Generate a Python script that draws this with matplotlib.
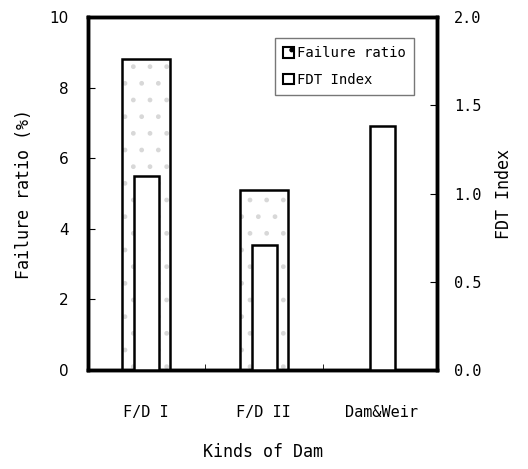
import matplotlib.pyplot as plt
import matplotlib.patches as mpatches
import numpy as np

# data
kinds = ['F/D I', 'F/D II', 'Dam&Weir']
failure_ratio = [8.8, 5.1, 0.0]   # %
fdt_index = [1.10, 0.71, 1.38]

mono = 'DejaVu Sans Mono'

fig = plt.figure(figsize=(5.28, 4.69), dpi=100)
ax1 = fig.add_axes([0.1667, 0.211, 0.661, 0.7527])
ax2 = ax1.twinx()

x = np.arange(len(kinds))
# faint speckle fill, then the black outline
ax1.bar(x, failure_ratio, width=0.41, color='white', edgecolor='#d8d8d8', linewidth=0,
        hatch='.', zorder=2)
ax1.bar(x, failure_ratio, width=0.41, color='none', edgecolor='black', linewidth=1.8, zorder=2)
ax2.bar(x + 0.005, fdt_index, width=0.21, color='white', edgecolor='black', linewidth=1.8, zorder=3)

ax1.set_xlim(-0.49, 2.47)
ax1.set_ylim(0, 10)
ax2.set_ylim(0, 2.0)
ax1.set_yticks([0, 2, 4, 6, 8, 10])
ax2.set_yticks([0.0, 0.5, 1.0, 1.5, 2.0])
ax2.set_yticklabels(['0.0', '0.5', '1.0', '1.5', '2.0'], family=mono, fontsize=11)
ax1.set_xticks(x)
ax1.set_xticklabels(kinds, family=mono, fontsize=11)
ax1.set_xticks([0.5, 1.5], minor=True)
ax1.tick_params(axis='x', which='major', length=0, pad=25)
ax1.tick_params(axis='x', which='minor', direction='in', length=4)
ax1.tick_params(axis='y', direction='in', length=5, labelsize=11, pad=14)
ax2.tick_params(axis='y', direction='in', length=5, pad=12)

for ax in (ax1, ax2):
    for s in ax.spines.values():
        s.set_linewidth(2.5)

ax1.set_ylabel('Failure ratio (%)', family=mono, fontsize=12, labelpad=12)
ax2.set_ylabel('FDT Index', family=mono, fontsize=12, labelpad=10)
ax1.set_xlabel('Kinds of Dam', family=mono, fontsize=12, labelpad=17)

h1 = mpatches.Patch(facecolor='white', edgecolor='black', hatch='.', linewidth=1.5, label='Failure ratio')
h2 = mpatches.Patch(facecolor='white', edgecolor='black', linewidth=1.5, label='FDT Index')
leg = ax2.legend(handles=[h1, h2], loc='upper right', bbox_to_anchor=(0.955, 0.96),
                 prop={'family': mono, 'size': 10}, handlelength=0.8, handleheight=0.8,
                 handletextpad=0.2, fancybox=False, edgecolor='#555555', borderpad=0.6,
                 labelspacing=0.9)
leg.get_frame().set_linewidth(1.0)

fig.savefig('out.png', dpi=100)
